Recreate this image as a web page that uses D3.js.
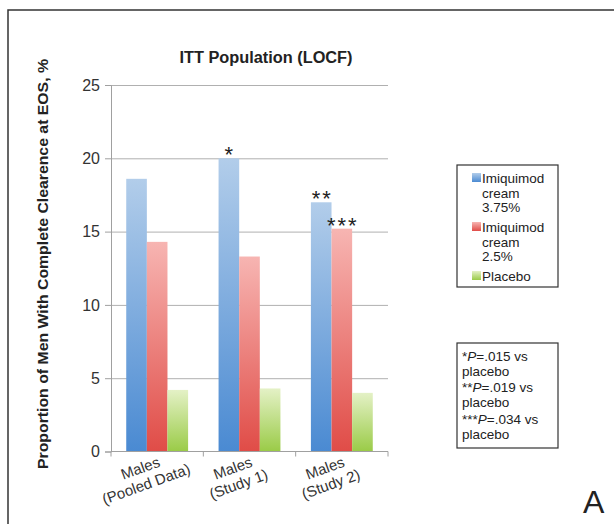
<!DOCTYPE html>
<html><head><meta charset="utf-8">
<script src="https://cdn.jsdelivr.net/npm/d3@7"></script>
<style>body{margin:0;background:#fff} svg{display:block} text{font-family:"Liberation Sans",Arial,sans-serif}</style>
</head><body>
<svg id="c" width="614" height="524"></svg>
<script>
// ---- data ----
const categoryKeys = ["Pooled", "Study1", "Study2"];
const categoryLabels = [["Males", "(Pooled Data)"], ["Males", "(Study 1)"], ["Males", "(Study 2)"]];
const seriesNames = ["Imiquimod cream 3.75%", "Imiquimod cream 2.5%", "Placebo"];
const legendLines = [["Imiquimod", "cream", "3.75%"], ["Imiquimod", "cream", "2.5%"], ["Placebo"]];
const imiquimod375 = [18.6, 20.0, 17.0];
const imiquimod25 = [14.3, 13.3, 15.2];
const placebo = [4.2, 4.3, 4.0];
const yTicks = [0, 5, 10, 15, 20, 25];
const significance = [
  {cat: 1, series: 0, text: "*"},
  {cat: 2, series: 0, text: "**"},
  {cat: 2, series: 1, text: "***"}
];
const pNotes = [["*", "=.015 vs"], ["**", "=.019 vs"], ["***", "=.034 vs"]];
const titleText = "ITT Population (LOCF)";
const yTitle = "Proportion of Men With Complete Clearence at EOS, %";

const seriesValues = [imiquimod375, imiquimod25, placebo];
const grads = [
  ["#b2cdea", "#4a8ad2"],
  ["#f7b5b2", "#e04c47"],
  ["#e4f1c6", "#9acb47"]
];

const svg = d3.select("#c");
const defs = svg.append("defs");
grads.forEach((g, i) => {
  const lg = defs.append("linearGradient").attr("id", "g" + i)
    .attr("x1", 0).attr("y1", 0).attr("x2", 0).attr("y2", 1);
  lg.append("stop").attr("offset", "0%").attr("stop-color", g[0]);
  lg.append("stop").attr("offset", "100%").attr("stop-color", g[1]);
});

// frame
svg.append("rect").attr("x", 8).attr("y", 10).attr("width", 640).attr("height", 560)
  .attr("fill", "none").attr("stroke", "#333").attr("stroke-width", 1.5);

const x0 = 111, x1 = 388;
const x = d3.scaleBand().domain(categoryKeys).range([x0, x1]).paddingInner(0.33).paddingOuter(0.165);
const xs = d3.scaleBand().domain(d3.range(seriesNames.length)).range([0, x.bandwidth()]);
const y = d3.scaleLinear().domain([0, 25]).range([451.5, 85]);

// gridlines
const grid = svg.append("g").attr("transform", `translate(${x0},0)`)
  .call(d3.axisLeft(y).tickValues(yTicks.filter(t => t > 0)).tickSize(-(x1 - x0)).tickFormat(""));
grid.select(".domain").remove();
grid.selectAll("line").attr("stroke", "#b0b0b0").attr("stroke-width", 1);

// bars
const groups = svg.append("g").selectAll("g").data(categoryKeys).join("g")
  .attr("transform", d => `translate(${x(d)},0)`);
groups.selectAll("rect").data((d, ci) => seriesValues.map((s, si) => ({si, v: s[ci]}))).join("rect")
  .attr("x", d => xs(d.si)).attr("width", xs.bandwidth())
  .attr("y", d => y(d.v)).attr("height", d => y(0) - y(d.v))
  .attr("fill", d => `url(#g${d.si})`);

// y axis
const ya = svg.append("g").attr("transform", `translate(${x0},0)`)
  .call(d3.axisLeft(y).tickValues(yTicks).tickSize(6).tickPadding(5));
ya.select(".domain").attr("stroke", "#a0a0a0");
ya.selectAll(".tick line").attr("stroke", "#a0a0a0");
ya.selectAll(".tick text").attr("fill", "#333").style("font-size", "16px").style("font-family", "Liberation Sans, Arial, sans-serif");

// x axis
const bounds = categoryKeys.map(k => x(k) - x.step() * x.paddingInner() / 2).concat([x1]);
const xa = svg.append("g");
xa.append("line").attr("x1", x0).attr("x2", x1).attr("y1", y(0)).attr("y2", y(0)).attr("stroke", "#a0a0a0");
xa.selectAll(".tk").data(bounds).join("line").attr("class", "tk")
  .attr("x1", d => d).attr("x2", d => d).attr("y1", y(0)).attr("y2", y(0) + 5).attr("stroke", "#a0a0a0");

const xl = svg.append("g").selectAll("text").data(categoryKeys).join("text")
  .attr("transform", d => `translate(${x(d) + x.bandwidth() / 2 - 15},473) rotate(-20)`)
  .attr("text-anchor", "middle").attr("fill", "#333").style("font-size", "15px");
xl.selectAll("tspan").data((d, i) => categoryLabels[i]).join("tspan")
  .attr("x", 0).attr("dy", (d, i) => i === 0 ? 0 : 17).text(d => d);

// significance markers
svg.append("g").selectAll("text").data(significance).join("text")
  .attr("x", d => x(categoryKeys[d.cat]) + xs(d.series) + xs.bandwidth() / 2 + 1)
  .attr("y", d => y(seriesValues[d.series][d.cat]) + 4)
  .attr("text-anchor", "middle").attr("fill", "#222")
  .style("font-size", "22px").style("letter-spacing", "2px")
  .text(d => d.text);

// title
svg.append("text").attr("x", 266).attr("y", 63).attr("text-anchor", "middle")
  .attr("fill", "#222").style("font-size", "16px").style("font-weight", "bold")
  .attr("textLength", 173).attr("lengthAdjust", "spacingAndGlyphs").text(titleText);

// y title
svg.append("text").attr("transform", "translate(48,264) rotate(-90)").attr("text-anchor", "middle")
  .attr("fill", "#222").style("font-size", "15px").style("font-weight", "bold")
  .attr("textLength", 410).attr("lengthAdjust", "spacingAndGlyphs").text(yTitle);

// legend
const lg = svg.append("g");
lg.append("rect").attr("x", 457).attr("y", 165).attr("width", 101).attr("height", 122)
  .attr("fill", "#fff").attr("stroke", "#333").attr("stroke-width", 1.2);
const entryTop = [183, 232, 281];
legendLines.forEach((lines, i) => {
  lg.append("rect").attr("x", 472).attr("y", entryTop[i] - 10).attr("width", 9).attr("height", 9)
    .attr("fill", `url(#g${i})`);
  const t = lg.append("text").attr("fill", "#222").style("font-size", "13.5px");
  lines.forEach((ln, j) => t.append("tspan").attr("x", 482).attr("y", entryTop[i] + j * 14.5).text(ln));
});

// p-value notes
const pg = svg.append("g");
pg.append("rect").attr("x", 457).attr("y", 343).attr("width", 101).attr("height", 105)
  .attr("fill", "#fff").attr("stroke", "#333").attr("stroke-width", 1.2);
const pTop = [361, 392, 424];
pNotes.forEach((n, i) => {
  const t = pg.append("text").attr("x", 462).attr("y", pTop[i]).attr("fill", "#222").style("font-size", "13.5px");
  t.append("tspan").text(n[0]);
  t.append("tspan").style("font-style", "italic").text("P");
  t.append("tspan").text(n[1]);
  pg.append("text").attr("x", 462).attr("y", pTop[i] + 15).attr("fill", "#222").style("font-size", "13.5px").text("placebo");
});

// panel letter
svg.append("text").attr("x", 583).attr("y", 513).attr("fill", "#222").style("font-size", "32px").text("A");
</script>
</body></html>
